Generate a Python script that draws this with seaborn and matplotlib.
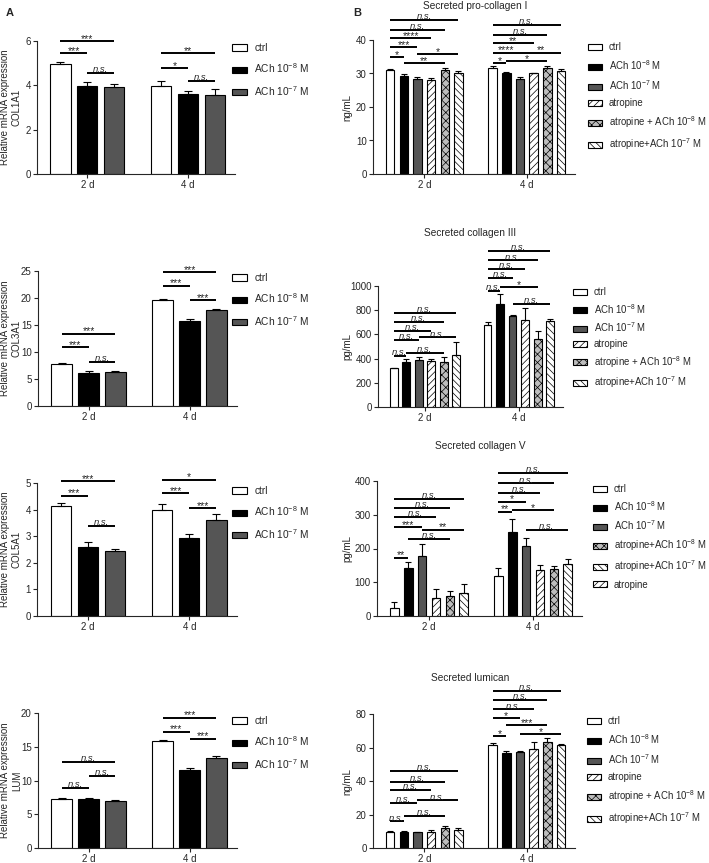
import numpy as np
import pandas as pd
import matplotlib
matplotlib.use("Agg")
import matplotlib.pyplot as plt
import seaborn as sns
from matplotlib.patches import Patch

sns.set_style("ticks")
plt.rcParams["font.family"] = ["Liberation Sans", "DejaVu Sans"]
plt.rcParams["mathtext.fontset"] = "custom"
plt.rcParams["mathtext.rm"] = "Liberation Sans"
plt.rcParams["mathtext.it"] = "Liberation Sans:italic"
plt.rcParams["mathtext.bf"] = "Liberation Sans:bold"
plt.rcParams["mathtext.default"] = "regular"
plt.rcParams["hatch.linewidth"] = 0.5

# ---------------- data ----------------
days = ["2 d", "4 d"]
groups_A = ["ctrl", "ACh 10$^{-8}$ M", "ACh 10$^{-7}$ M"]
groups_B = ["ctrl", "ACh 10$^{-8}$ M", "ACh 10$^{-7}$ M", "atropine",
            "atropine + ACh 10$^{-8}$ M", "atropine+ACh 10$^{-7}$ M"]
groups_B3 = ["ctrl", "ACh 10$^{-8}$ M", "ACh 10$^{-7}$ M", "atropine",
             "atropine+ACh 10$^{-8}$ M", "atropine+ACh 10$^{-7}$ M"]

col1a1_2d = [4.95, 3.95, 3.93]
col1a1_4d = [3.98, 3.60, 3.57]
col1a1_sem_2d = [0.10, 0.18, 0.12]
col1a1_sem_4d = [0.22, 0.15, 0.25]

col3a1_2d = [7.8, 6.2, 6.3]
col3a1_4d = [19.6, 15.8, 17.8]
col3a1_sem_2d = [0.15, 0.2, 0.2]
col3a1_sem_4d = [0.2, 0.25, 0.2]

col5a1_2d = [4.15, 2.60, 2.45]
col5a1_4d = [4.00, 2.95, 3.60]
col5a1_sem_2d = [0.10, 0.20, 0.08]
col5a1_sem_4d = [0.20, 0.15, 0.25]

lum_2d = [7.2, 7.2, 7.0]
lum_4d = [15.8, 11.6, 13.4]
lum_sem_2d = [0.15, 0.2, 0.1]
lum_sem_4d = [0.2, 0.2, 0.25]

procol1_2d = [31.0, 29.3, 28.5, 28.1, 31.1, 30.0]
procol1_4d = [31.6, 30.1, 28.4, 30.0, 31.6, 30.8]
procol1_sem_2d = [0.4, 0.5, 0.4, 0.7, 0.4, 0.8]
procol1_sem_4d = [0.5, 0.4, 0.6, 0.2, 0.5, 0.4]

col3_2d = [320, 375, 385, 380, 375, 430]
col3_4d = [675, 850, 750, 720, 565, 710]
col3_sem_2d = [5, 20, 25, 20, 35, 105]
col3_sem_4d = [30, 80, 8, 100, 65, 15]

col5_2d = [25, 142, 178, 52, 60, 68]
col5_4d = [118, 250, 208, 135, 140, 153]
col5_sem_2d = [17, 17, 35, 28, 13, 26]
col5_sem_4d = [24, 38, 24, 15, 8, 17]

lumican_2d = [9.8, 9.3, 9.3, 9.5, 12.2, 10.7]
lumican_4d = [61.2, 56.5, 57.3, 59.0, 63.0, 61.5]
lumican_sem_2d = [0.5, 1.0, 0.4, 1.2, 1.2, 1.2]
lumican_sem_4d = [1.2, 1.3, 0.7, 4.5, 2.8, 0.7]

# significance annotations: (day index, bar i, bar j, height, label)
col1a1_sig = [(0, 0, 1, 5.45, "***"), (0, 0, 2, 6.0, "***"), (0, 1, 2, 4.56, "n.s."),
              (1, 0, 1, 4.76, "*"), (1, 0, 2, 5.46, "**"), (1, 1, 2, 4.2, "n.s.")]
col3a1_sig = [(0, 0, 1, 10.9, "***"), (0, 0, 2, 13.4, "***"), (0, 1, 2, 8.2, "n.s."),
              (1, 0, 1, 22.3, "***"), (1, 0, 2, 24.8, "***"), (1, 1, 2, 19.6, "***")]
col5a1_sig = [(0, 0, 1, 4.53, "***"), (0, 0, 2, 5.06, "***"), (0, 1, 2, 3.4, "n.s."),
              (1, 0, 1, 4.62, "***"), (1, 0, 2, 5.13, "*"), (1, 1, 2, 4.06, "***")]
lum_sig = [(0, 0, 1, 8.9, "n.s."), (0, 0, 2, 12.7, "n.s."), (0, 1, 2, 10.7, "n.s."),
           (1, 0, 1, 17.25, "***"), (1, 0, 2, 19.3, "***"), (1, 1, 2, 16.2, "***")]
procol1_sig = [(0, 0, 1, 34.8, "*"), (0, 0, 2, 37.8, "***"), (0, 0, 3, 40.5, "****"),
               (0, 0, 4, 43.1, "n.s."), (0, 0, 5, 46.0, "n.s."), (0, 1, 4, 33.2, "**"),
               (0, 2, 5, 35.7, "*"),
               (1, 0, 1, 33.2, "*"), (1, 0, 2, 36.2, "****"), (1, 0, 3, 39.0, "**"),
               (1, 0, 4, 41.6, "n.s."), (1, 0, 5, 44.6, "n.s."), (1, 2, 5, 36.2, "**"),
               (1, 1, 4, 33.7, "*")]
col3_sig = [(0, 0, 1, 425, "n.s."), (0, 1, 4, 449, "n.s."), (0, 0, 2, 553, "n.s."),
            (0, 2, 5, 575, "n.s."), (0, 0, 3, 630, "n.s."), (0, 0, 4, 701, "n.s."),
            (0, 0, 5, 775, "n.s."),
            (1, 0, 1, 956, "n.s."), (1, 1, 4, 989, "*"), (1, 0, 2, 1066, "n.s."),
            (1, 0, 3, 1142, "n.s."), (1, 0, 4, 1211, "n.s."), (1, 0, 5, 1288, "n.s."),
            (1, 2, 5, 855, "n.s.")]
col5_sig = [(0, 0, 1, 173, "**"), (0, 1, 4, 228, "n.s."), (0, 0, 2, 264, "***"),
            (0, 2, 5, 256, "**"), (0, 0, 3, 294, "n.s."), (0, 0, 4, 321, "n.s."),
            (0, 0, 5, 347, "n.s."),
            (1, 0, 1, 309, "**"), (1, 1, 4, 314, "*"), (1, 0, 2, 339, "*"),
            (1, 0, 3, 365, "n.s."), (1, 0, 4, 393, "n.s."), (1, 0, 5, 423, "n.s."),
            (1, 2, 5, 254, "n.s.")]
lumican_sig = [(0, 0, 1, 15.9, "n.s."), (0, 1, 4, 19.2, "n.s."), (0, 0, 2, 26.8, "n.s."),
               (0, 2, 5, 28.4, "n.s."), (0, 0, 3, 34.5, "n.s."), (0, 0, 4, 39.7, "n.s."),
               (0, 0, 5, 46.2, "n.s."),
               (1, 0, 1, 66.9, "*"), (1, 1, 4, 73.2, "***"), (1, 0, 2, 77.4, "*"),
               (1, 2, 5, 68.1, "*"), (1, 0, 3, 82.7, "n.s."), (1, 0, 4, 88.3, "n.s."),
               (1, 0, 5, 93.8, "n.s.")]

# ---------------- styling ----------------
bar_styles = [("white", ""), ("black", ""), ("#555555", ""),
              ("white", "/////"), ("#bdbdbd", "xxxx"), ("white", "\\\\\\\\\\")]

W, H = 709, 863
fig = plt.figure(figsize=(W / 100, H / 100), dpi=100)
FS = 7


def add_ax(x0, y0, x1, y1):
    return fig.add_axes([x0 / W, 1 - y1 / H, (x1 - x0) / W, (y1 - y0) / H])


def draw(box, labels, m2, m4, s2, s4, ylim, yticks, ylabel, sig, gap, capsize,
         legend_xy, legend_order, labelspacing, label_x, legend_fs):
    ax = add_ax(*box)
    n = len(labels)
    df = pd.DataFrame({"day": [days[0]] * n + [days[1]] * n,
                       "group": labels * 2,
                       "value": list(m2) + list(m4)})
    sns.barplot(data=df, x="day", y="value", hue="group", hue_order=labels,
                order=days, palette=[bar_styles[k][0] for k in range(n)],
                saturation=1, errorbar=None, width=0.8, gap=gap,
                edgecolor="black", linewidth=0.8, legend=False, ax=ax)
    sems = [s2, s4]
    centers = []
    bar_conts = list(ax.containers)
    for k, cont in enumerate(bar_conts):
        row = []
        for g, bar in enumerate(cont.patches):
            bar.set_hatch(bar_styles[k][1])
            x = bar.get_x() + bar.get_width() / 2
            row.append(x)
            ax.errorbar(x, bar.get_height(), yerr=[[0], [sems[g][k]]], fmt="none",
                        ecolor="black", elinewidth=0.8, capsize=capsize,
                        capthick=0.8, zorder=3)
        centers.append(row)
    for (g, i, j, y, lab) in sig:
        x0, x1 = centers[i][g], centers[j][g]
        ax.plot([x0, x1], [y, y], color="black", lw=1.4, clip_on=False,
                solid_capstyle="butt")
        if lab == "n.s.":
            ax.annotate(lab, xy=((x0 + x1) / 2, y), xytext=(0, 0.6),
                        textcoords="offset points", ha="center", va="baseline",
                        fontsize=6.8, style="italic", annotation_clip=False)
        else:
            ax.annotate(lab, xy=((x0 + x1) / 2, y), xytext=(0, -0.6),
                        textcoords="offset points", ha="center", va="baseline",
                        fontsize=7.5, annotation_clip=False)
    ax.set_xlim(-0.5, 1.47)
    ax.set_ylim(*ylim)
    ax.set_yticks(yticks)
    ax.set_xlabel("")
    ax.set_ylabel(ylabel, fontsize=FS, linespacing=1.25)
    ax.yaxis.set_label_coords((label_x - box[0]) / (box[2] - box[0]), 0.5)
    ax.tick_params(axis="both", labelsize=FS, length=3, width=0.8, pad=1.5,
                   direction="out")
    for s in ["left", "bottom"]:
        ax.spines[s].set_linewidth(0.8)
    sns.despine(ax=ax)
    handles = []
    hl = []
    for k in legend_order:
        handles.append(Patch(facecolor=bar_styles[k][0], edgecolor="black",
                             hatch=bar_styles[k][1], linewidth=0.8))
        hl.append(labels[k])
    ax.legend(handles, hl, loc="upper left",
              bbox_to_anchor=(legend_xy[0] / W, 1 - legend_xy[1] / H),
              bbox_transform=fig.transFigure, frameon=False, fontsize=legend_fs,
              handlelength=1.5, handleheight=0.6, handletextpad=0.7,
              labelspacing=labelspacing, borderpad=0, borderaxespad=0)
    return ax


# Panel A
draw((37, 41, 235, 174), groups_A, col1a1_2d, col1a1_4d, col1a1_sem_2d, col1a1_sem_4d,
     (0, 6), [0, 2, 4, 6], "Relative mRNA expression\nCOL1A1", col1a1_sig, 0.25, 3.2,
     (232, 43), [0, 1, 2], 0.85, 22, 7.3)
draw((38, 271, 237, 406), groups_A, col3a1_2d, col3a1_4d, col3a1_sem_2d, col3a1_sem_4d,
     (0, 25), [0, 5, 10, 15, 20, 25], "Relative mRNA expression\nCOL3A1", col3a1_sig,
     0.25, 3.2, (232, 273), [0, 1, 2], 0.85, 22, 7.3)
draw((37, 483, 237, 616), groups_A, col5a1_2d, col5a1_4d, col5a1_sem_2d, col5a1_sem_4d,
     (0, 5), [0, 1, 2, 3, 4, 5], "Relative mRNA expression\nCOL5A1", col5a1_sig,
     0.25, 3.2, (232, 486), [0, 1, 2], 0.85, 22, 7.3)
draw((38, 713, 237, 848), groups_A, lum_2d, lum_4d, lum_sem_2d, lum_sem_4d,
     (0, 20), [0, 5, 10, 15, 20], "Relative mRNA expression\nLUM", lum_sig,
     0.25, 3.2, (232, 716), [0, 1, 2], 0.85, 22, 7.3)

# Panel B
draw((373, 40, 575, 174), groups_B, procol1_2d, procol1_4d, procol1_sem_2d, procol1_sem_4d,
     (0, 40), [0, 10, 20, 30, 40], "ng/mL", procol1_sig, 0.38, 2.2,
     (588, 42), [0, 1, 2, 3, 4, 5], 0.65, 352, 6.9)
draw((378, 286, 563, 407), groups_B, col3_2d, col3_4d, col3_sem_2d, col3_sem_4d,
     (0, 1000), [0, 200, 400, 600, 800, 1000], "pg/mL", col3_sig, 0.38, 2.2,
     (573, 287), [0, 1, 2, 3, 4, 5], 0.5, 352, 6.9)
draw((377, 481, 582, 616), groups_B3, col5_2d, col5_4d, col5_sem_2d, col5_sem_4d,
     (0, 400), [0, 100, 200, 300, 400], "pg/mL", col5_sig, 0.38, 2.2,
     (593, 484), [0, 1, 2, 4, 5, 3], 0.55, 352, 6.9)
draw((373, 714, 575, 848), groups_B, lumican_2d, lumican_4d, lumican_sem_2d, lumican_sem_4d,
     (0, 80), [0, 20, 40, 60, 80], "ng/mL", lumican_sig, 0.38, 2.2,
     (587, 716), [0, 1, 2, 3, 4, 5], 0.65, 352, 6.9)

fig.text(475 / W, 1 - 6 / H, "Secreted pro-collagen I", ha="center", va="center", fontsize=7.3)
fig.text(470 / W, 1 - 233 / H, "Secreted collagen III", ha="center", va="center", fontsize=7.3)
fig.text(480 / W, 1 - 446 / H, "Secreted collagen V", ha="center", va="center", fontsize=7.3)
fig.text(470 / W, 1 - 678 / H, "Secreted lumican", ha="center", va="center", fontsize=7.3)
fig.text(10 / W, 1 - 13 / H, "A", ha="center", va="center", fontsize=8, fontweight="bold")
fig.text(357 / W, 1 - 13 / H, "B", ha="center", va="center", fontsize=8, fontweight="bold")

fig.savefig("out.png", dpi=100)
